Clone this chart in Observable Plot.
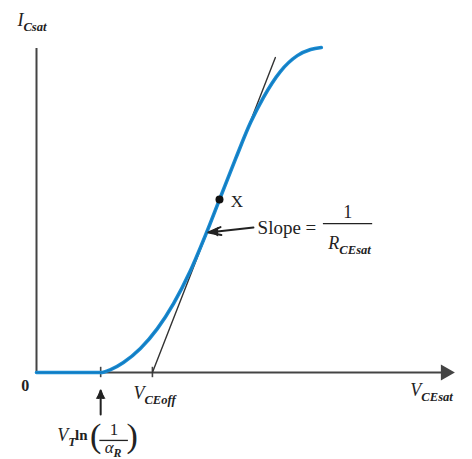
<!DOCTYPE html>
<html>
<head>
<meta charset="utf-8">
<script src="https://cdn.jsdelivr.net/npm/d3@7"></script>
<script src="https://cdn.jsdelivr.net/npm/@observablehq/plot@0.6"></script>
<style>
  html, body { margin: 0; padding: 0; background: #fff; }
  #chart svg { display: block; }
</style>
</head>
<body>
<div id="chart"></div>
<script>
// Curve samples (arbitrary units): V_CE,sat on x, I_C,sat on y
const vce = [0, 1.55, 1.79, 2.10, 2.51, 2.92, 3.31, 3.72, 4.08, 4.42, 4.81, 5.17, 5.48, 5.89, 6.30, 6.62, 6.88];
const ic  = [0, 0,    0.09, 0.31, 0.74, 1.35, 2.12, 3.14, 4.22, 5.32, 6.58, 7.69, 8.46, 9.26, 9.75, 9.94, 10.0];

// Tangent line through operating point X
const tangentX = [2.80, 5.77];
const tangentY = [0, 9.69];

// Point X
const pointX = [4.42];
const pointY = [5.32];

// Tick marks on the x axis
const tickNames = ["VT ln(1/αR)", "VCEoff"];
const tickValues = [1.55, 2.80];

// Axis extents
const xMax = 10, yMax = 9.97;

// Annotation texts (positions in data units)
const annText  = ["0", "I_{Csat}", "V_{CEsat}", "V_{CEoff}", "V_{T}", "ln", "(", "1", "α_{R}", ")", "X", "Slope =", "1", "R_{CEsat}"];
const annX     = [-0.27, -0.46, 9.03, 2.34, 0.50, 0.93, 1.43, 1.87, 1.85, 2.31, 4.69, 5.34, 7.52, 7.05];
const annY     = [-0.40, 10.83, -0.55, -0.65, -1.94, -1.94, -1.97, -1.76, -2.31, -1.97, 5.26, 4.46, 4.92, 3.97];
const annAnchor= ["middle","start","start","start","start","start","middle","middle","middle","middle","start","start","middle","start"];
const annSize  = [16, 18, 18, 18, 18, 15, 34, 17, 17, 34, 17, 19, 18, 18];
const annWeight= ["bold","normal","normal","normal","normal","bold","normal","normal","normal","normal","normal","normal","normal","normal"];
const annStyle = ["normal","italic","italic","italic","italic","normal","normal","normal","italic","normal","normal","normal","normal","italic"];

// Fraction bars
const barX1 = [1.53, 6.93];
const barX2 = [2.22, 8.12];
const barY  = [-2.09, 4.58];

// Pointer arrows
const arrX1 = [5.24, 1.55];
const arrY1 = [4.46, -1.29];
const arrX2 = [4.15, 1.55];
const arrY2 = [4.31, -0.55];

const curve = vce.map((v, i) => ({x: v, y: ic[i]}));
const tangent = tangentX.map((v, i) => ({x: v, y: tangentY[i]}));
const ann = annText.map((t, i) => ({text: t, x: annX[i], y: annY[i], anchor: annAnchor[i], size: annSize[i], weight: annWeight[i], style: annStyle[i]}));
const bars = barX1.map((v, i) => ({x1: v, x2: barX2[i], y: barY[i]}));
const arrows = arrX1.map((v, i) => ({x1: v, y1: arrY1[i], x2: arrX2[i], y2: arrY2[i]}));
const ticks = tickValues.map((v, i) => ({name: tickNames[i], x: v}));

const font = "'Liberation Serif', 'Times New Roman', serif";
const ink = "#222";
const axisColor = "#444";

const textMarks = ann.map(a => Plot.text([a], {
  x: "x", y: "y", text: "text",
  textAnchor: a.anchor, fontSize: a.size, fontWeight: a.weight, fontStyle: a.style,
  fontFamily: font, fill: ink
}));

const svg = Plot.plot({
  width: 472, height: 459,
  marginLeft: 36, marginRight: 22, marginTop: 47, marginBottom: 87,
  x: {domain: [0, xMax], axis: null},
  y: {domain: [0, 10], axis: null},
  marks: [
    // y axis
    Plot.ruleX([0], {y1: 0, y2: yMax, stroke: axisColor, strokeWidth: 2}),
    // x axis with arrowhead
    Plot.ruleY([0], {x1: 0, x2: xMax - 0.2, stroke: axisColor, strokeWidth: 2}),
    Plot.dot([{x: xMax - 0.12, y: 0}], {x: "x", y: "y", symbol: "triangle", r: 6, rotate: 90, fill: axisColor, stroke: "none"}),
    // ticks
    Plot.ruleX(ticks, {x: "x", y1: -0.16, y2: 0.16, stroke: axisColor, strokeWidth: 1.6}),
    // tangent
    Plot.line(tangent, {x: "x", y: "y", stroke: "#333", strokeWidth: 1.4}),
    // curve
    Plot.line(curve, {x: "x", y: "y", curve: "monotone-x", stroke: "#1a8bd2", strokeWidth: 3.6, strokeLinecap: "round"}),
    Plot.line(curve, {x: "x", y: "y", curve: "monotone-x", stroke: "#0d6fb0", strokeWidth: 1.2, strokeOpacity: 0.6}),
    // point X
    Plot.dot(pointX.map((v, i) => ({x: v, y: pointY[i]})), {x: "x", y: "y", r: 4, fill: "#111", stroke: "none"}),
    // pointer arrows
    Plot.arrow(arrows, {x1: "x1", y1: "y1", x2: "x2", y2: "y2", stroke: "#222", strokeWidth: 2, headLength: 10, headAngle: 35}),
    Plot.dot([{x: 1.55, y: -0.72}], {x: "x", y: "y", symbol: "triangle", r: 3.6, fill: "#222", stroke: "none"}),
    Plot.dot([{x: 4.32, y: 4.33}], {x: "x", y: "y", symbol: "triangle", r: 3.6, rotate: -90, fill: "#222", stroke: "none"}),
    // fraction bars
    Plot.ruleY(bars, {y: "y", x1: "x1", x2: "x2", stroke: ink, strokeWidth: 1.3}),
    ...textMarks
  ]
});

// Render "A_{sub}" as main text with a subscript tspan
const ns = "http://www.w3.org/2000/svg";
svg.querySelectorAll("text").forEach(t => {
  const s = t.textContent;
  const m = s.match(/^(.*?)_\{(.*?)\}$/);
  if (!m) return;
  while (t.firstChild) t.removeChild(t.firstChild);
  const a = document.createElementNS(ns, "tspan");
  a.textContent = m[1];
  t.appendChild(a);
  const b = document.createElementNS(ns, "tspan");
  b.textContent = m[2];
  b.setAttribute("font-size", "70%");
  b.setAttribute("font-weight", "bold");
  b.setAttribute("dy", "0.35em");
  t.appendChild(b);
});

document.getElementById("chart").appendChild(svg);
</script>
</body>
</html>
